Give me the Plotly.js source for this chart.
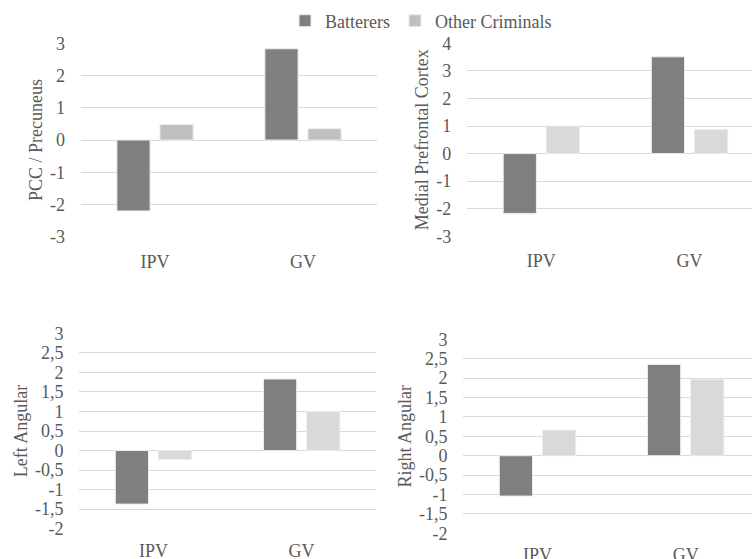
<!DOCTYPE html>
<html>
<head>
<meta charset="utf-8">
<script src="https://cdn.plot.ly/plotly-3.0.1.min.js"></script>
<style>
html,body{margin:0;padding:0;background:#fff;}
#chart{width:752px;height:559px;}
</style>
</head>
<body>
<div id="chart"></div>
<script>
// ---- data ----
const categories = ['IPV', 'GV'];
const seriesNames = ['Batterers', 'Other Criminals'];

const pccBatterers = [-2.2, 2.83];
const pccOther = [0.48, 0.35];

const mpfcBatterers = [-2.17, 3.51];
const mpfcOther = [1.0, 0.87];

const leftAngBatterers = [-1.37, 1.83];
const leftAngOther = [-0.23, 1.0];

const rightAngBatterers = [-1.04, 2.35];
const rightAngOther = [0.66, 1.97];

const panelTitles = ['PCC / Precuneus', 'Medial Prefrontal Cortex', 'Left Angular', 'Right Angular'];

const ticksIntTop1 = [-3, -2, -1, 0, 1, 2, 3];
const ticksIntTop2 = [-3, -2, -1, 0, 1, 2, 3, 4];
const ticksHalf = [-2, -1.5, -1, -0.5, 0, 0.5, 1, 1.5, 2, 2.5, 3];
const ticksHalfText = ['-2', '-1,5', '-1', '-0,5', '0', '0,5', '1', '1,5', '2', '2,5', '3'];

// ---- styles ----
const W = 752, H = 559;
const cBat = '#7f7f7f';
const cOther1 = '#bfbfbf';
const cOther = '#d9d9d9';
const fontFam = 'Liberation Serif, Times New Roman, serif';
const txtCol = '#595959';
const gridCol = '#d9d9d9';
const FS = 18;

function px(a, b) { return [a / W, b / W]; }
function py(top, bottom) { return [1 - bottom / H, 1 - top / H]; }

function bar(name, x, y, color, xa, ya, show) {
  return {
    type: 'bar', name: name, x: x, y: y, xaxis: xa, yaxis: ya,
    marker: { color: color, line: { color: '#ececec', width: 1 } },
    legendgroup: name, showlegend: show, hoverinfo: 'y'
  };
}

const data = [
  bar(seriesNames[0], categories, pccBatterers, cBat, 'x', 'y', true),
  bar(seriesNames[1], categories, pccOther, cOther1, 'x', 'y', true),
  bar(seriesNames[0], categories, mpfcBatterers, cBat, 'x2', 'y2', false),
  bar(seriesNames[1], categories, mpfcOther, cOther, 'x2', 'y2', false),
  bar(seriesNames[0], categories, leftAngBatterers, cBat, 'x3', 'y3', false),
  bar(seriesNames[1], categories, leftAngOther, cOther, 'x3', 'y3', false),
  bar(seriesNames[0], categories, rightAngBatterers, cBat, 'x4', 'y4', false),
  bar(seriesNames[1], categories, rightAngOther, cOther, 'x4', 'y4', false)
];

function xAxis(domain, range, anchor, standoff) {
  return {
    domain: domain, anchor: anchor, type: 'category', range: range,
    showgrid: false, zeroline: false, showline: false, ticks: '',
    ticklabelstandoff: standoff,
    tickfont: { family: fontFam, size: FS, color: txtCol }, fixedrange: true
  };
}
function yAxis(domain, range, tickvals, ticktext, anchor, title) {
  return {
    domain: domain, anchor: anchor, range: range,
    tickmode: 'array', tickvals: tickvals, ticktext: ticktext,
    showgrid: true, gridcolor: gridCol, gridwidth: 1,
    zeroline: true, zerolinecolor: gridCol, zerolinewidth: 1,
    showline: false, ticks: '', ticklabelstandoff: 15,
    tickfont: { family: fontFam, size: FS, color: txtCol },
    title: { text: title, standoff: 2, font: { family: fontFam, size: FS, color: txtCol } },
    fixedrange: true
  };
}

const layout = {
  width: W, height: H,
  margin: { l: 0, r: 0, t: 0, b: 0 },
  paper_bgcolor: '#ffffff', plot_bgcolor: '#ffffff',
  barmode: 'group', bargap: 0.418, bargroupgap: 0.23,
  font: { family: fontFam, size: FS, color: txtCol },
  showlegend: true,
  legend: {
    orientation: 'h', x: 421 / W, xanchor: 'center', y: 1 - 21 / H, yanchor: 'middle',
    font: { family: fontFam, size: FS, color: txtCol }, bgcolor: 'rgba(0,0,0,0)',
    traceorder: 'normal', itemwidth: 30
  },
  xaxis: xAxis(px(81, 377), [-0.5, 1.5], 'y', 12),
  yaxis: yAxis(py(43.3, 236.7), [-3, 3], ticksIntTop1, ticksIntTop1.map(String), 'x', panelTitles[0]),
  xaxis2: xAxis(px(467.3, 752), [-0.5, 1.422], 'y2', 12),
  yaxis2: yAxis(py(43.3, 236.3), [-3, 4], ticksIntTop2, ticksIntTop2.map(String), 'x2', panelTitles[1]),
  xaxis3: xAxis(px(79.4, 375.7), [-0.5, 1.5], 'y3', 9),
  yaxis3: yAxis(py(333.3, 528.7), [-2, 3], ticksHalf, ticksHalfText, 'x3', panelTitles[2]),
  xaxis4: xAxis(px(463.4, 752), [-0.5, 1.448], 'y4', 9),
  yaxis4: yAxis(py(339.3, 533.3), [-2, 3], ticksHalf, ticksHalfText, 'x4', panelTitles[3])
};

Plotly.newPlot('chart', data, layout, { displayModeBar: false, staticPlot: true });
</script>
</body>
</html>
